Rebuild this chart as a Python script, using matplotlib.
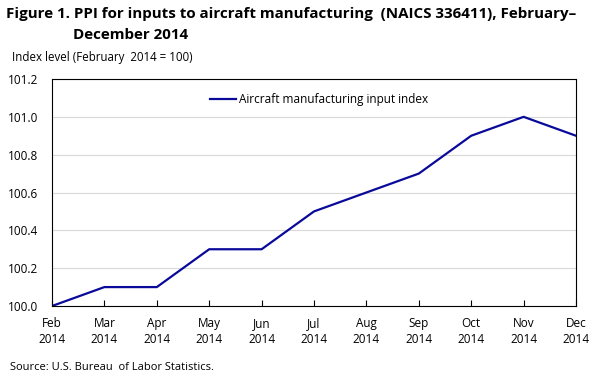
import matplotlib
matplotlib.use("Agg")
import matplotlib.pyplot as plt

months = ["Feb\n2014", "Mar\n2014", "Apr\n2014", "May\n2014", "Jun\n2014", "Jul\n2014",
          "Aug\n2014", "Sep\n2014", "Oct\n2014", "Nov\n2014", "Dec\n2014"]
values = [100.0, 100.1, 100.1, 100.3, 100.3, 100.5, 100.6, 100.7, 100.9, 101.0, 100.9]
yticks = [100.0, 100.2, 100.4, 100.6, 100.8, 101.0, 101.2]

plt.rcParams['font.family'] = ['Open Sans', 'DejaVu Sans']

fig = plt.figure(figsize=(5.99, 3.83), dpi=100)
ax = fig.add_axes([52/599, 1-306/383, (576-52)/599, (306-79)/383])

x = list(range(len(values)))
ax.plot(x, values, color="#0a0a9a", lw=1.6, label="Aircraft manufacturing input index")
ax.set_xlim(0, len(values)-1)
ax.set_ylim(100.0, 101.2)
ax.set_yticks(yticks)
ax.set_yticklabels([f"{v:.1f}" for v in yticks])
ax.set_xticks(x)
ax.set_xticklabels(months, linespacing=1.3)
ax.grid(axis="y", color="#d9d9d9", lw=0.8)
ax.set_axisbelow(True)
ax.tick_params(axis="y", length=0, labelsize=8.5, pad=10)
ax.tick_params(axis="x", direction="in", length=4, labelsize=8.5, pad=8)
for s in ax.spines.values():
    s.set_linewidth(0.8)
    s.set_color("black")

ax.legend(loc="upper center", bbox_to_anchor=(0.51, 0.985), frameon=False, fontsize=8.5,
          handlelength=2.2, handletextpad=0.3)

fig.text(6/599, 1-14/383, "Figure 1. PPI for inputs to aircraft manufacturing  (NAICS 336411), February\u2013",
         fontsize=10.9, fontweight="bold", va="center", ha="left")
fig.text(73/599, 1-35/383, "December 2014", fontsize=10.9, fontweight="bold", va="center", ha="left")
fig.text(12/599, 1-58/383, "Index level (February  2014 = 100)", fontsize=8.3, va="center", ha="left")
fig.text(10/599, 1-367/383, "Source: U.S. Bureau  of Labor Statistics.", fontsize=8, va="center", ha="left")

fig.savefig("out.png", dpi=100)
